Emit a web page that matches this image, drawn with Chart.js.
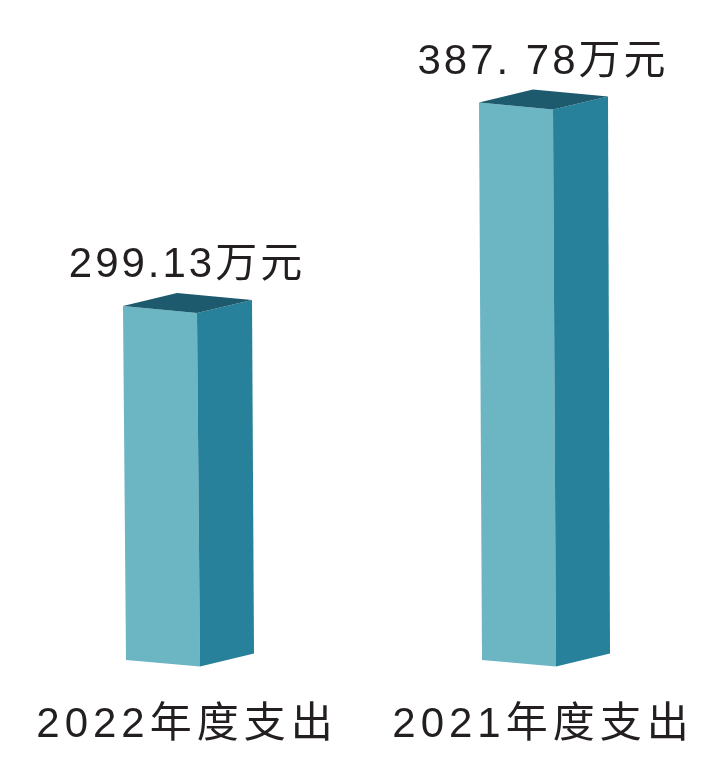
<!DOCTYPE html>
<html lang="zh">
<head>
<meta charset="utf-8">
<title>年度支出</title>
<script src="https://cdn.jsdelivr.net/npm/chart.js@4.4.1/dist/chart.umd.min.js"></script>
<style>
    html, body { margin: 0; padding: 0; background: #fff; }
    #wrap { width: 714px; height: 760px; }
</style>
</head>
<body>
<div id="wrap"><canvas id="spendChart" width="714" height="760"></canvas></div>
<script>
// Chart data
const categories = ['2022年度支出', '2021年度支出'];
const spending = [299.13, 387.78];
const valueLabels = ['299.13万元', '387. 78万元'];

const AXIS_MIN = 145;
const AXIS_MAX = 400;

const FRONT = '#6cb5c3';
const SIDE = '#27819b';
const TOP = '#1d5a6d';
const TEXT = '#231f20';
const FONT = '42px "Liberation Sans", "Noto Sans CJK SC", sans-serif';

function fillPoly(ctx, pts, color) {
    ctx.beginPath();
    ctx.moveTo(pts[0][0], pts[0][1]);
    for (let i = 1; i < pts.length; i++) {
        ctx.lineTo(pts[i][0], pts[i][1]);
    }
    ctx.closePath();
    ctx.fillStyle = color;
    ctx.fill();
}

// Draws each bar as a box: front face, right side and top
const bar3d = {
    id: 'bar3d',
    beforeDatasetDraw(chart, args) {
        const ctx = chart.ctx;
        const depthX = 54, depthY = -13;
        ctx.save();
        args.meta.data.forEach(bar => {
            const half = bar.width / 2;
            const tl = [bar.x - half, bar.y - 3.5];
            const tr = [bar.x + half, bar.y + 3.5];
            const bl = [bar.x - half + 3, bar.base - 3];
            const br = [bar.x + half + 3, bar.base + 3.5];
            fillPoly(ctx, [tl, tr, br, bl], FRONT);
            fillPoly(ctx, [tr, [tr[0] + depthX + 1, tr[1] + depthY], [br[0] + depthX, br[1] + depthY], br], SIDE);
            fillPoly(ctx, [tl, [tl[0] + depthX, tl[1] + depthY], [tr[0] + depthX + 1, tr[1] + depthY], tr], TOP);
        });
        ctx.restore();
        return false;
    },
    afterDatasetsDraw(chart) {
        const ctx = chart.ctx;
        const meta = chart.getDatasetMeta(0);
        ctx.save();
        ctx.font = FONT;
        ctx.fillStyle = TEXT;
        ctx.textAlign = 'center';
        ctx.textBaseline = 'alphabetic';
        meta.data.forEach((bar, i) => {
            const cx = bar.x + 27;
            ctx.letterSpacing = '3px';
            ctx.fillText(valueLabels[i], cx, bar.y - 32);
            ctx.letterSpacing = '5px';
            ctx.fillText(categories[i], cx, bar.base + 74);
        });
        ctx.restore();
    }
};

new Chart(document.getElementById('spendChart'), {
    type: 'bar',
    data: {
        labels: categories,
        datasets: [{
            data: spending,
            base: AXIS_MIN,
            backgroundColor: FRONT,
            barThickness: 74
        }]
    },
    options: {
        responsive: false,
        animation: false,
        layout: {
            autoPadding: false,
            padding: { left: 160, right: 198, top: 78, bottom: 97 }
        },
        plugins: {
            legend: { display: false },
            tooltip: { enabled: false }
        },
        scales: {
            x: { offset: false, display: false },
            y: { min: AXIS_MIN, max: AXIS_MAX, display: false }
        }
    },
    plugins: [bar3d]
});
</script>
</body>
</html>
